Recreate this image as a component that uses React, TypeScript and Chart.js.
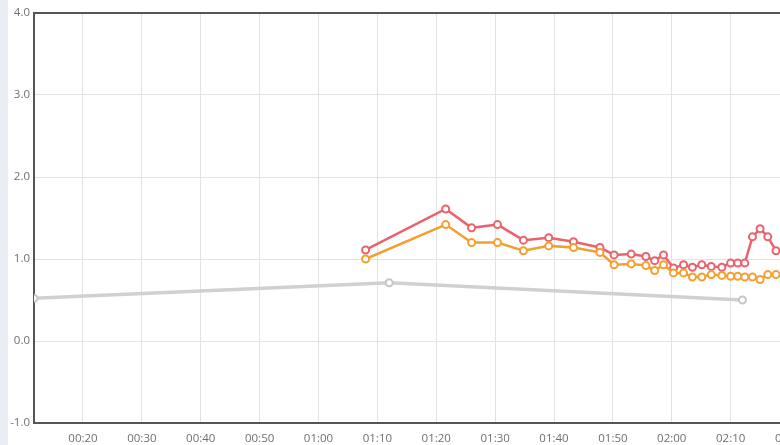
import React, { useEffect, useRef } from "react";
import { Chart, registerables } from "chart.js";

Chart.register(...registerables);

// Time in minutes since 00:00
const seriesTimes = [68.0, 81.6, 86.0, 90.4, 94.8, 99.1, 103.3, 107.8, 110.2, 113.1, 115.6, 117.1, 118.6, 120.3, 122.0, 123.5, 125.1, 126.7, 128.5, 130.0, 131.2, 132.4, 133.7, 135.0, 136.3, 137.7, 139.1];
const redValues = [1.11, 1.61, 1.38, 1.42, 1.23, 1.26, 1.21, 1.14, 1.05, 1.06, 1.03, 0.98, 1.05, 0.89, 0.93, 0.9, 0.93, 0.91, 0.9, 0.95, 0.95, 0.95, 1.27, 1.37, 1.27, 1.1, 1.1];
const orangeValues = [1.0, 1.42, 1.2, 1.2, 1.1, 1.16, 1.14, 1.08, 0.93, 0.94, 0.92, 0.86, 0.93, 0.83, 0.83, 0.78, 0.78, 0.81, 0.8, 0.79, 0.79, 0.78, 0.78, 0.75, 0.81, 0.81, 0.8];
const greyTimes = [11.68, 72.0, 132.0];
const greyValues = [0.52, 0.71, 0.5];

const xMax = 160;
const yMin = -1;
const yMax = 4;

const fmtTime = (v: number) => {
  const h = Math.floor(v / 60);
  const m = Math.round(v % 60);
  return `${String(h).padStart(2, "0")}:${String(m).padStart(2, "0")}`;
};

const toPoints = (xs: number[], ys: number[]) => xs.map((x, i) => ({ x, y: ys[i] }));

export default function App() {
  const ref = useRef<HTMLCanvasElement | null>(null);

  useEffect(() => {
    document.body.style.margin = "0";
    if (!ref.current) return;
    const xMin = Math.min(...greyTimes, ...seriesTimes);
    const tickFont = { family: "'Open Sans', sans-serif", size: 11.5 };
    const chart = new Chart(ref.current, {
      type: "line",
      data: {
        datasets: [
          {
            data: toPoints(greyTimes, greyValues),
            borderColor: "#d0d0d0",
            borderWidth: 3.5,
            pointRadius: 3.5,
            pointBorderWidth: 2,
            pointBackgroundColor: "#ffffff",
            pointBorderColor: "#c6c6c6",
            tension: 0,
          },
          {
            data: toPoints(seriesTimes, orangeValues),
            borderColor: "#f3a032",
            borderWidth: 2.5,
            pointRadius: 3.5,
            pointBorderWidth: 2,
            pointBackgroundColor: "#ffffff",
            pointBorderColor: "#f3a032",
            tension: 0,
          },
          {
            data: toPoints(seriesTimes, redValues),
            borderColor: "#e9636f",
            borderWidth: 2.5,
            pointRadius: 3.5,
            pointBorderWidth: 2,
            pointBackgroundColor: "#ffffff",
            pointBorderColor: "#e9636f",
            tension: 0,
          },
        ],
      },
      options: {
        animation: false,
        responsive: false,
        maintainAspectRatio: false,
        layout: { padding: { top: 13, left: 0, right: 40.7, bottom: 0 } },
        plugins: { legend: { display: false }, tooltip: { enabled: false } },
        scales: {
          x: {
            type: "linear",
            position: "bottom",
            min: xMin,
            max: xMax,
            afterFit: (s: any) => {
              s.height = 22;
            },
            ticks: {
              stepSize: 10,
              includeBounds: false,
              padding: 9,
              color: "#6f6f6f",
              font: tickFont,
              maxRotation: 0,
              autoSkip: false,
              callback: (v: any) => fmtTime(Number(v)),
            },
            grid: { color: "#e2e2e2", drawTicks: false, lineWidth: 1 },
            border: { color: "#555", width: 2 },
          },
          x2: {
            type: "linear",
            position: "top",
            min: xMin,
            max: xMax,
            afterFit: (s: any) => {
              s.height = 0;
            },
            ticks: { display: false },
            grid: { display: false, drawTicks: false },
            border: { color: "#555", width: 2 },
          },
          y: {
            min: yMin,
            max: yMax,
            afterFit: (s: any) => {
              s.width = 26;
            },
            ticks: {
              stepSize: 1,
              padding: 4,
              color: "#6f6f6f",
              font: tickFont,
              callback: (v: any) => Number(v).toFixed(1),
            },
            grid: { color: "#e2e2e2", drawTicks: false, lineWidth: 1 },
            border: { color: "#555", width: 2 },
          },
        },
      },
    });
    return () => chart.destroy();
  }, []);

  return (
    <div style={{ position: "relative", width: 780, height: 445, overflow: "hidden", background: "#e9eef5" }}>
      <div style={{ position: "absolute", left: 8, top: 0, width: 960, height: 445, background: "#ffffff" }}>
        <canvas ref={ref} width={940} height={445} style={{ display: "block", width: 940, height: 445 }} />
      </div>
    </div>
  );
}
